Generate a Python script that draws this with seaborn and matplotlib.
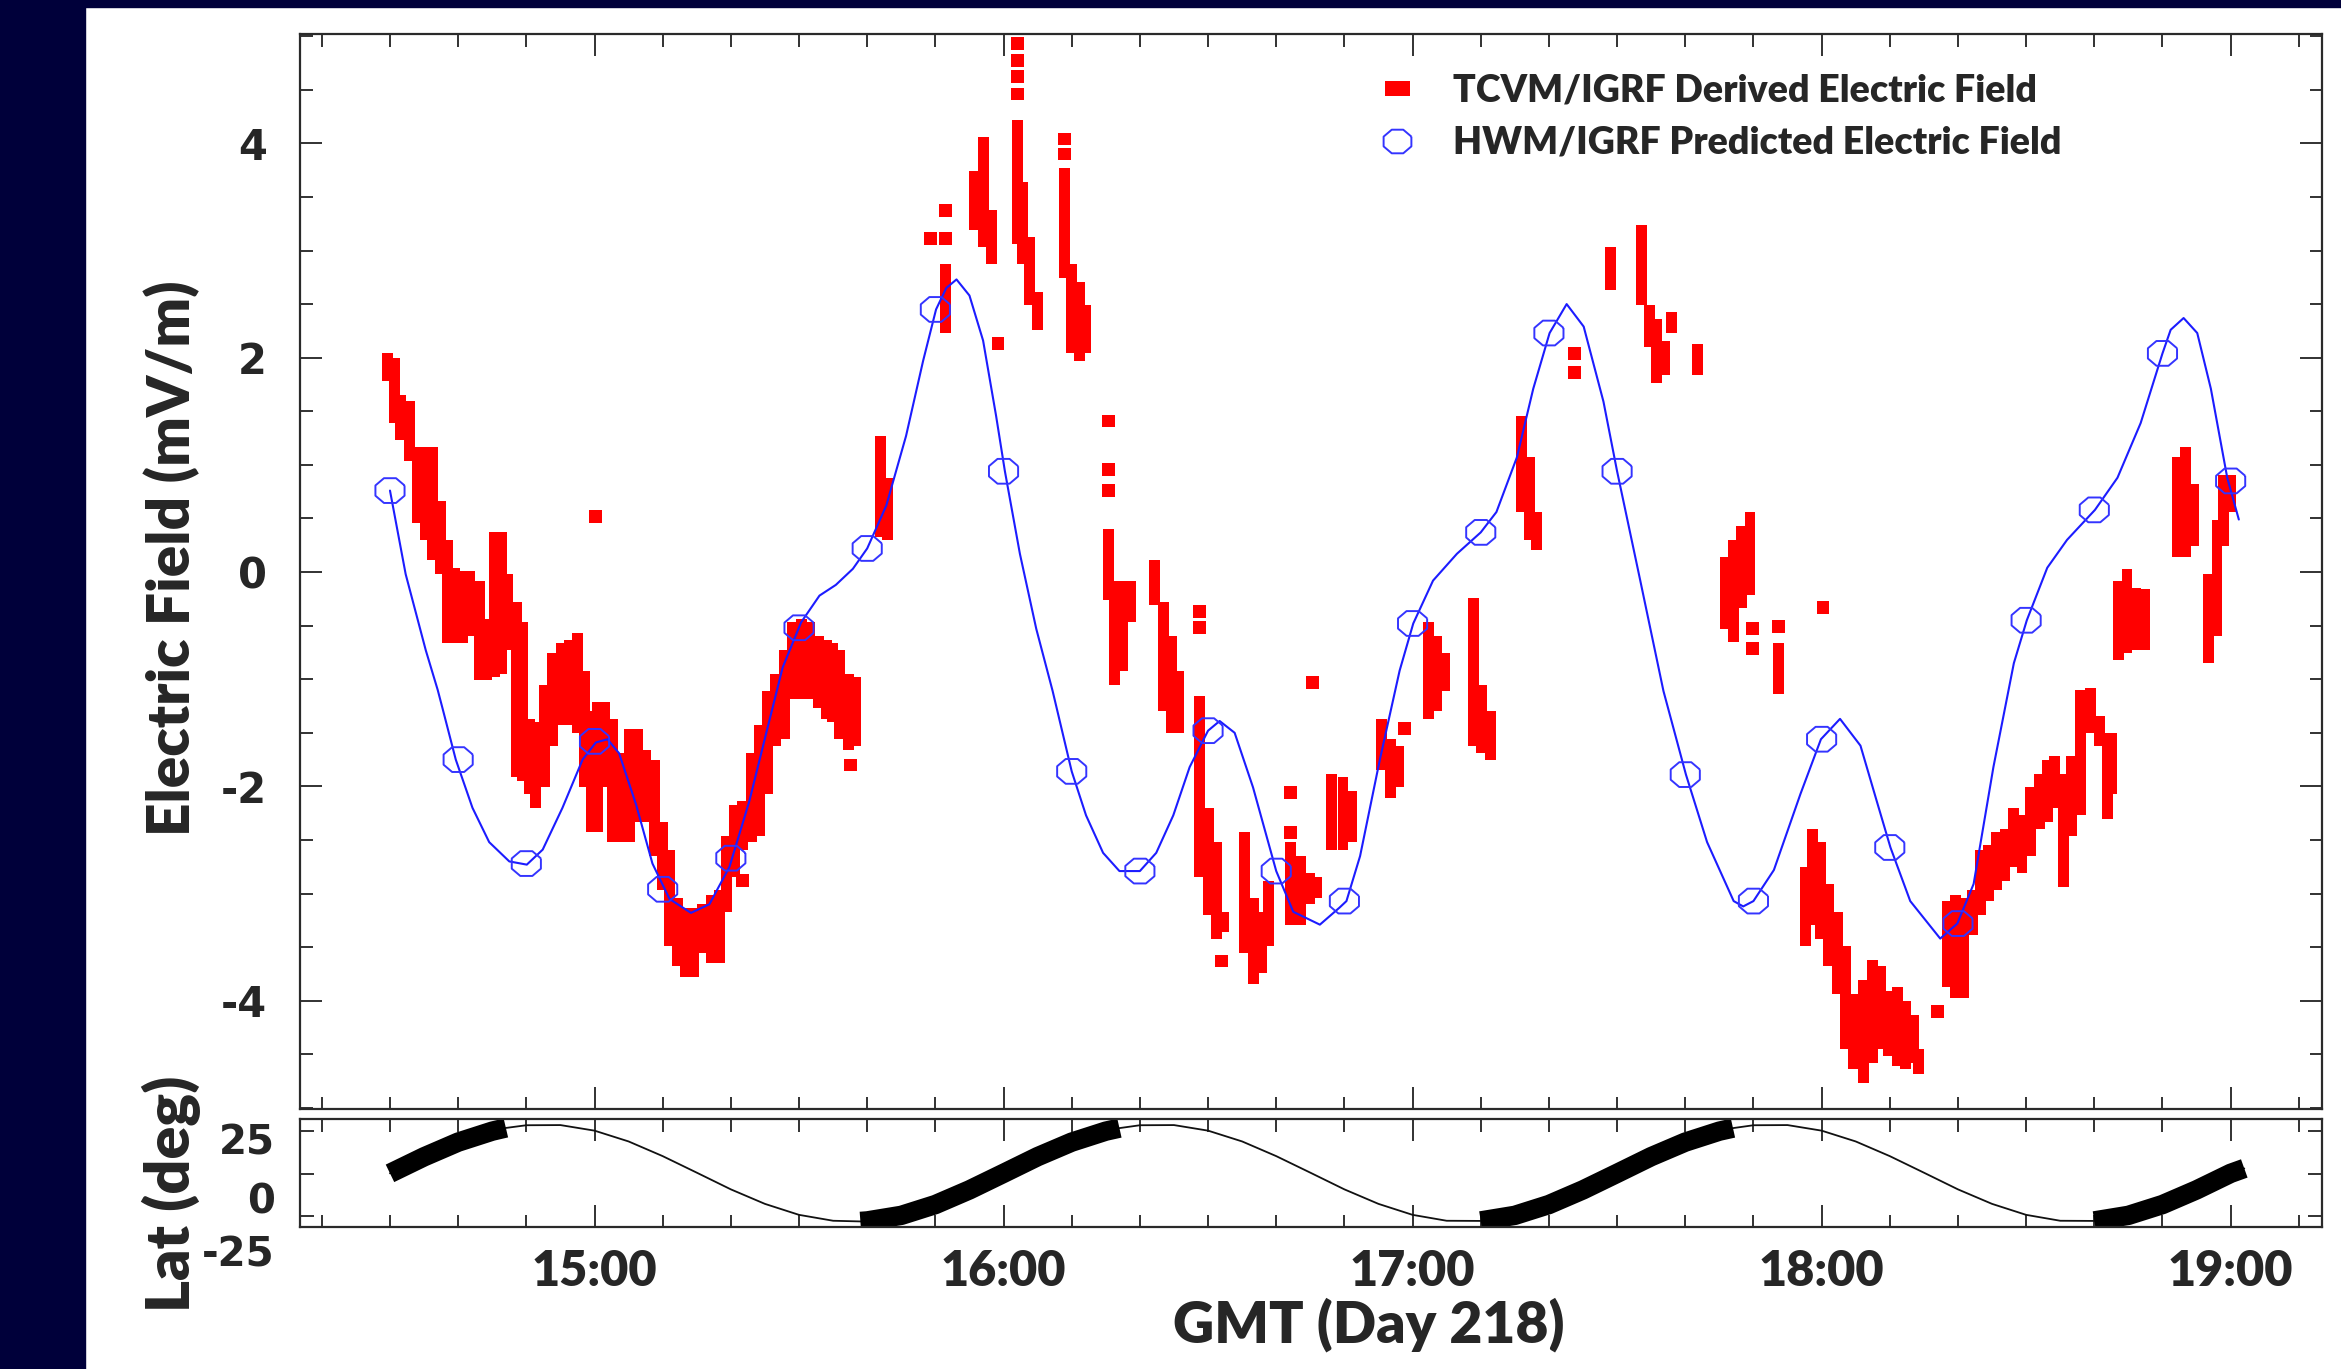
import numpy as np
import matplotlib
matplotlib.use("Agg")
import matplotlib.pyplot as plt
import seaborn as sns
from matplotlib.patches import Rectangle
from matplotlib.lines import Line2D
from matplotlib.ticker import MultipleLocator
from matplotlib.transforms import ScaledTranslation

# all times are minutes after 14:00 GMT (day 218)

# TCVM/IGRF derived field: vertical spread of the red points in each time column
red_t = [29.6, 30.6, 31.6, 32.8, 34.0, 35.25, 36.2, 37.45, 38.4, 39.4, 40.6, 41.6,
         43.1, 44.1, 45.3, 46.3, 47.2, 48.5, 49.4, 50.4, 51.4, 52.6, 53.8, 55.1,
         56.3, 57.5, 58.5, 59.5, 60.4, 61.4, 62.6, 63.9, 65.1, 66.3, 67.5, 68.8,
         70.0, 71.0, 72.2, 73.4, 74.6, 75.9, 77.1, 78.3, 79.3, 80.5, 81.7, 83.0,
         84.2, 85.4, 86.6, 87.9, 89.1, 90.3, 91.5, 92.8, 94.0, 94.9, 95.9, 97.2, 98.3,
         101.9, 103.0, 111.5, 115.7, 117.0, 118.2, 122.0, 122.8, 123.8, 125.0,
         128.9, 130.0, 131.2, 132.1, 135.4, 136.3, 137.5, 138.7,
         142.2, 143.4, 144.6, 145.6, 148.8, 150.0, 151.2, 152.2,
         155.4, 156.6, 157.8, 158.8, 162.1, 163.5, 164.9, 165.9,
         168.1, 169.8, 171.0, 175.4, 176.7, 177.9, 182.3, 183.5, 184.7,
         188.9, 190.1, 191.4, 196.0, 197.2, 198.2, 209.0,
         213.6, 214.8, 215.8, 217.0, 218.0, 221.8,
         225.9, 227.1, 228.3, 229.5, 233.7,
         237.6, 238.6, 239.8, 241.0, 242.3, 243.5, 244.7, 246.2, 247.4, 248.6,
         249.8, 251.1, 252.3, 253.5, 254.2,
         258.4, 259.6, 260.8, 262.1, 263.3, 264.5, 265.7, 266.9, 268.2, 269.4,
         270.6, 271.9, 273.1, 274.1, 275.5, 276.7, 278.0, 279.4, 280.7, 281.9, 282.6,
         283.6, 284.8, 286.0, 287.3, 292.2, 293.4, 294.6,
         296.8, 298.0, 299.0, 300.0]
red_lo = [1.78, 1.39, 1.23, 1.04, 0.46, 0.30, 0.11, -0.02, -0.66, -0.66, -0.66, -0.60,
          -1.01, -1.01, -0.98, -0.95, -0.73, -1.91, -1.95, -2.07, -2.20, -2.01, -1.62, -1.43,
          -1.43, -1.50, -2.01, -2.43, -2.43, -2.01, -2.52, -2.52, -2.52, -2.33, -2.33, -2.65,
          -2.97, -3.49, -3.68, -3.78, -3.78, -3.55, -3.65, -3.65, -3.17, -2.85, -2.59, -2.52,
          -2.46, -2.07, -1.62, -1.56, -1.18, -1.18, -1.18, -1.27, -1.37, -1.40, -1.56, -1.66, -1.62,
          0.33, 0.30, 2.23, 3.19, 3.03, 2.87, 3.06, 2.87, 2.49, 2.26,
          2.74, 2.04, 1.97, 2.04, -0.26, -1.05, -0.92, -0.47,
          -0.31, -1.30, -1.50, -1.50, -2.85, -3.20, -3.42, -3.36,
          -3.55, -3.84, -3.74, -3.49, -3.29, -3.29, -3.10, -3.04,
          -2.59, -2.59, -2.52, -1.85, -2.11, -2.01, -1.37, -1.30, -1.11,
          -1.62, -1.69, -1.75, 0.56, 0.30, 0.21, 2.63,
          2.49, 2.10, 1.76, 1.84, 2.23, 1.84,
          -0.53, -0.65, -0.34, -0.21, -1.14,
          -3.49, -3.29, -3.42, -3.68, -3.94, -4.45, -4.64, -4.77, -4.58, -4.45,
          -4.52, -4.61, -4.64, -4.58, -4.68,
          -3.87, -3.97, -3.97, -3.39, -3.20, -3.07, -2.97, -2.88, -2.75, -2.81,
          -2.65, -2.40, -2.33, -2.20, -2.94, -2.46, -2.27, -1.50, -1.62, -2.30, -2.07,
          -0.82, -0.76, -0.73, -0.73, 0.14, 0.14, 0.24,
          -0.85, -0.60, 0.24, 0.56]
red_hi = [2.04, 2.00, 1.65, 1.60, 1.17, 1.17, 1.17, 0.66, 0.30, 0.04, 0.01, 0.01,
          -0.08, -0.44, 0.37, 0.37, -0.02, -0.28, -0.47, -1.37, -1.40, -1.05, -0.76, -0.66,
          -0.63, -0.57, -0.92, -1.30, -1.21, -1.21, -1.37, -1.69, -1.46, -1.46, -1.66, -1.75,
          -2.33, -2.59, -3.04, -3.13, -3.13, -3.10, -3.01, -2.97, -2.46, -2.17, -2.14, -1.69,
          -1.43, -1.11, -0.95, -0.73, -0.47, -0.44, -0.47, -0.60, -0.63, -0.66, -0.73, -0.95, -0.98,
          1.27, 0.88, 2.87, 3.74, 4.06, 3.38, 4.22, 3.64, 3.13, 2.61,
          3.77, 2.87, 2.71, 2.49, 0.40, -0.08, -0.08, -0.08,
          0.11, -0.28, -0.60, -0.92, -1.16, -2.20, -2.52, -3.17,
          -2.43, -3.04, -3.17, -2.88, -2.52, -2.65, -2.81, -2.85,
          -1.88, -1.91, -2.04, -1.37, -1.56, -1.62, -0.47, -0.60, -0.76,
          -0.24, -1.05, -1.30, 1.46, 1.07, 0.56, 3.03,
          3.24, 2.49, 2.36, 2.16, 2.43, 2.13,
          0.14, 0.30, 0.43, 0.56, -0.66,
          -2.75, -2.40, -2.52, -2.91, -3.17, -3.49, -3.94, -3.81, -3.62, -3.68,
          -3.91, -3.87, -4.00, -4.13, -4.45,
          -3.07, -3.01, -3.04, -2.97, -2.59, -2.55, -2.43, -2.40, -2.20, -2.27,
          -2.01, -1.88, -1.75, -1.72, -1.88, -1.72, -1.10, -1.08, -1.34, -1.50, -1.50,
          -0.08, 0.03, -0.15, -0.16, 1.07, 1.17, 0.82,
          -0.02, 0.49, 0.91, 0.91]

# lone red points
dot_t = [60.1, 81.7, 97.5, 109.3, 111.5, 111.5, 119.2, 122.0, 122.0, 122.0, 122.0,
         128.9, 128.9, 135.4, 135.4, 135.4, 148.8, 148.8, 152.0, 162.1, 162.1, 165.3,
         178.8, 203.7, 203.7, 229.9, 229.9, 233.7, 240.2, 257.0]
dot_v = [0.52, -2.88, -1.80, 3.11, 3.37, 3.11, 2.13, 4.93, 4.77, 4.62, 4.46,
         4.04, 3.90, 1.41, 0.96, 0.76, -0.37, -0.52, -3.63, -2.06, -2.43, -1.03,
         -1.46, 2.04, 1.86, -0.53, -0.71, -0.51, -0.33, -4.10]

# HWM/IGRF predicted field
hwm_t = [30.0, 32.3, 35.25, 37.0, 37.7, 39.65, 42.1, 44.55, 47.5, 50.07, 52.4, 55.3,
         58.25, 60.2, 61.9, 63.6, 66.1, 68.5, 71.0, 74.15, 76.85, 79.8, 82.7, 85.2,
         87.6, 90.3, 93.0, 95.4, 97.9, 100.0, 102.8, 105.7, 108.2, 110.1, 111.6, 113.1,
         115.0, 117.0, 118.9, 120.2, 122.4, 124.8, 127.2, 130.0, 132.1, 134.6, 137.0,
         140.0, 142.4, 144.9, 147.3, 150.0, 151.7, 153.9, 156.6, 160.0, 162.5, 166.4,
         169.3, 170.3, 172.3, 175.2, 178.1, 180.1, 183.0, 186.5, 190.0, 192.3, 195.3,
         197.7, 200.1, 202.6, 205.1, 208.0, 210.0, 213.4, 216.8, 220.1, 223.2, 227.1,
         228.5, 230.0, 233.0, 236.9, 239.9, 242.7, 245.7, 248.1, 250.1, 253.0, 257.4,
         259.9, 262.3, 265.2, 268.2, 270.1, 273.1, 276.0, 280.1, 283.4, 286.8, 290.0,
         291.2, 293.1, 295.1, 297.1, 299.5, 301.2]
hwm_v = [0.76, -0.02, -0.73, -1.10, -1.27, -1.75, -2.20, -2.52, -2.70, -2.73, -2.59, -2.20,
         -1.75, -1.59, -1.56, -1.69, -2.17, -2.72, -3.05, -3.18, -3.10, -2.75, -2.14, -1.50,
         -0.89, -0.47, -0.22, -0.12, 0.03, 0.22, 0.62, 1.27, 1.97, 2.45, 2.65, 2.73,
         2.58, 2.16, 1.46, 0.94, 0.17, -0.53, -1.11, -1.86, -2.27, -2.62, -2.79,
         -2.79, -2.62, -2.27, -1.82, -1.48, -1.39, -1.50, -2.01, -2.79, -3.17, -3.29,
         -3.13, -3.07, -2.65, -1.75, -0.92, -0.48, -0.08, 0.17, 0.37, 0.56, 1.07,
         1.71, 2.23, 2.50, 2.29, 1.59, 0.94, -0.08, -1.11, -1.89, -2.52, -3.07,
         -3.12, -3.07, -2.78, -2.07, -1.56, -1.37, -1.62, -2.14, -2.57, -3.07, -3.42,
         -3.28, -2.91, -1.82, -0.85, -0.45, 0.04, 0.30, 0.58, 0.88, 1.39, 2.04,
         2.26, 2.37, 2.23, 1.71, 0.88, 0.49]
mark_t = [30, 40, 50, 60, 70, 80, 90, 100, 110, 120, 130, 140, 150, 160,
          170, 180, 190, 200, 210, 220, 230, 240, 250, 260, 270, 280, 290, 300]
mark_v = [0.76, -1.75, -2.72, -1.58, -2.96, -2.67, -0.52, 0.22, 2.45, 0.94, -1.86, -2.79,
          -1.48, -2.79, -3.07, -0.48, 0.37, 2.23, 0.94, -1.89, -3.07, -1.56, -2.57, -3.28,
          -0.45, 0.58, 2.04, 0.85]

# satellite latitude (deg)
lat_t = [30, 35, 40, 45, 47, 50, 55, 60, 65, 70, 75, 80, 85, 90, 95, 99, 100, 105, 110,
         115, 120, 125, 130, 135, 137, 140, 145, 150, 155, 160, 165, 170, 175, 180, 185,
         190, 195, 200, 205, 210, 215, 220, 225, 227, 230, 235, 240, 245, 250, 255, 260,
         265, 270, 275, 280, 285, 290, 295, 300, 302]
lat_v = [0.1, 9.9, 18.6, 25.1, 27.0, 28.6, 28.7, 25.4, 19.0, 10.3, 0.5, -9.4, -18.0,
         -24.5, -28.0, -28.4, -28.1, -24.8, -18.4, -9.7, 0.1, 10.0, 18.6, 25.1, 26.9,
         28.6, 28.7, 25.4, 19.0, 10.3, 0.5, -9.4, -18.0, -24.5, -28.0, -28.1, -24.8,
         -18.4, -9.7, 0.1, 10.0, 18.6, 25.1, 26.9, 28.6, 28.7, 25.4, 19.0, 10.3, 0.5,
         -9.4, -18.0, -24.5, -28.0, -28.1, -24.8, -18.4, -9.7, 0.1, 3.0]
# stretches of the track drawn heavy
thick_start = [29.7, 99, 190, 280]
thick_end = [47, 137, 227, 302]

xtick_pos = [60, 120, 180, 240, 300]
xtick_labels = ["15:00", "16:00", "17:00", "18:00", "19:00"]
ytick_main = [-4, -2, 0, 2, 4]
ytick_lat = [-25, 0, 25]

sns.set_style("ticks")
plt.rcParams["axes.unicode_minus"] = False
plt.rcParams["font.family"] = ["Lato", "DejaVu Sans"]

W, H = 2341, 1369
fig = plt.figure(figsize=(W / 100, H / 100), dpi=100)
fig.patch.set_facecolor("white")
navy = "#00003a"
fig.patches.append(Rectangle((0, 0), 85 / W, 1, transform=fig.transFigure, color=navy, zorder=-5))
fig.patches.append(Rectangle((0, 1 - 7 / H), 1, 7 / H, transform=fig.transFigure, color=navy, zorder=-5))

ax = fig.add_axes([300 / W, 1 - 1109 / H, 2022 / W, 1075 / H])
ax2 = fig.add_axes([300 / W, 1 - 1227 / H, 2022 / W, 108 / H])

label_font = {"family": "Lato", "weight": "heavy"}
num_font = {"family": "DejaVu Sans", "weight": "bold"}

# red measured field
ax.bar(red_t, np.subtract(red_hi, red_lo), bottom=red_lo, width=1.6,
       color="#ff0000", linewidth=0, zorder=2)
sns.scatterplot(x=dot_t, y=dot_v, ax=ax, marker="s", s=85, color="#ff0000",
                edgecolor="none", linewidth=0, zorder=2)

# blue model curve and octagons
blue = "#1c1cff"
sns.lineplot(x=hwm_t, y=hwm_v, ax=ax, color=blue, linewidth=1.5, sort=False,
             estimator=None, zorder=3)
ang = np.deg2rad(22.5 + 45 * np.arange(9))
octo = list(zip(np.cos(ang), 0.85 * np.sin(ang)))
sns.scatterplot(x=mark_t, y=mark_v, ax=ax, marker=octo, s=440, facecolor="none",
                edgecolor="#3434ff", linewidth=1.4, zorder=4)

ax.set_xlim(16.8, 313.4)
ax.set_ylim(-5.01, 5.02)
ax.set_xticks(xtick_pos)
ax.xaxis.set_minor_locator(MultipleLocator(10))
ax.set_yticks(ytick_main)
ax.set_yticklabels([str(v) for v in ytick_main])
ax.yaxis.set_minor_locator(MultipleLocator(0.5))
ax.tick_params(which="major", direction="in", length=16, width=1.3, color="#222222",
               top=True, right=True, labelbottom=False)
ax.tick_params(which="minor", direction="in", length=9, width=1.3, color="#222222",
               top=True, right=True)
ax.tick_params(axis="y", pad=24)
for lbl in ax.get_yticklabels():
    lbl.set_fontfamily(num_font["family"])
    lbl.set_fontweight(num_font["weight"])
    lbl.set_fontsize(30)
ax.set_xlabel("")
ax.set_ylabel("Electric Field (mV/m)", fontsize=42, **label_font)
ax.yaxis.label.set_va("baseline")
ax.yaxis.set_label_coords(-0.0544, 0.512)

leg_handles = [
    Line2D([], [], ls="none", marker=[(-1, -0.6), (1, -0.6), (1, 0.6), (-1, 0.6), (-1, -0.6)],
           markersize=18, color="#ff0000", markeredgewidth=0),
    Line2D([], [], ls="none", marker=octo, markersize=20, markerfacecolor="none",
           markeredgecolor="#3434ff", markeredgewidth=1.4),
]
ax.legend(leg_handles, ["TCVM/IGRF Derived Electric Field", "HWM/IGRF Predicted Electric Field"],
          loc="upper left", bbox_to_anchor=(0.5314, 0.9636), frameon=False,
          prop={"family": "Lato", "weight": "heavy", "size": 27},
          handlelength=1.2, handletextpad=0.9, labelspacing=0.5, borderpad=0, borderaxespad=0)

# latitude panel
sns.lineplot(x=lat_t, y=lat_v, ax=ax2, color="#111111", linewidth=1.3, sort=False, estimator=None)
lat_arr = np.array(lat_v)
t_arr = np.array(lat_t)
for t0, t1 in zip(thick_start, thick_end):
    keep = (t_arr >= t0) & (t_arr <= t1)
    sns.lineplot(x=t_arr[keep], y=lat_arr[keep], ax=ax2, color="black", linewidth=14,
                 sort=False, estimator=None, solid_capstyle="butt")

ax2.set_xlim(16.8, 313.4)
ax2.set_ylim(-31.7, 32.3)
ax2.set_xticks(xtick_pos)
ax2.set_xticklabels(xtick_labels)
ax2.xaxis.set_minor_locator(MultipleLocator(10))
ax2.set_yticks(ytick_lat)
ax2.set_yticklabels([str(v) for v in ytick_lat])
ax2.tick_params(axis="x", which="major", direction="in", length=16, width=1.3, color="#222222",
                top=True, pad=16)
ax2.tick_params(axis="x", which="minor", direction="in", length=9, width=1.3, color="#222222",
                top=True)
ax2.tick_params(axis="y", which="major", direction="in", length=10, width=1.3, color="#222222",
                right=True, pad=18)
for lbl in ax2.get_xticklabels():
    lbl.set_fontfamily(label_font["family"])
    lbl.set_fontweight(label_font["weight"])
    lbl.set_fontsize(35)
lat_shift = [-25.2, -17.3, -5.8]
for lbl, dy in zip(ax2.get_yticklabels(), lat_shift):
    lbl.set_fontfamily(num_font["family"])
    lbl.set_fontweight(num_font["weight"])
    lbl.set_fontsize(29)
    lbl.set_transform(lbl.get_transform() + ScaledTranslation(0, dy / 72, fig.dpi_scale_trans))
ax2.set_xlabel("GMT (Day 218)", fontsize=41, **label_font)
ax2.xaxis.label.set_va("baseline")
ax2.xaxis.set_label_coords(0.5284, -1.074)
ax2.set_ylabel("Lat (deg)", fontsize=44, **label_font)
ax2.yaxis.label.set_va("baseline")
ax2.yaxis.set_label_coords(-0.0544, 0.306)

for a in (ax, ax2):
    for sp in a.spines.values():
        sp.set_visible(True)
        sp.set_color("#2a2a2a")
        sp.set_linewidth(1.6)
    a.set_facecolor("white")

fig.savefig("out.png", dpi=100, facecolor=fig.get_facecolor())
